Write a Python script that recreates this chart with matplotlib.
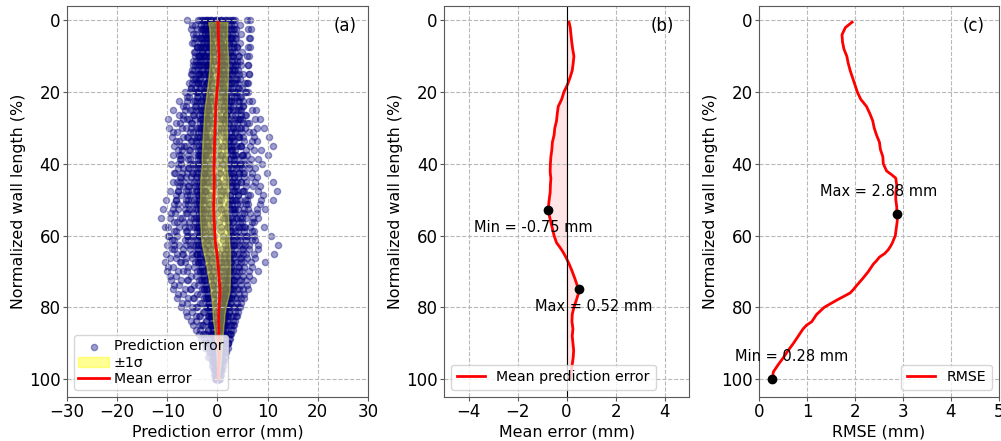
import numpy as np
import matplotlib
matplotlib.use("Agg")
import matplotlib.pyplot as plt

# depth levels for the individual prediction error profiles (%)
depth_levels = [0, 2.5, 5, 7.5, 10, 12.5, 15, 17.5, 20, 22.5, 25, 27.5, 30, 32.5,
                35, 37.5, 40, 42.5, 45, 47.5, 50, 52.5, 55, 57.5, 60, 62.5, 65,
                67.5, 70, 72.5, 75, 77.5, 80, 82.5, 85, 87.5, 90, 92.5, 95, 97.5, 100]
depth_levels_b = [1.25, 3.75, 6.25, 8.75, 11.25, 13.75, 16.25, 18.75, 21.25, 23.75,
                  26.25, 28.75, 31.25, 33.75, 36.25, 38.75, 41.25, 43.75, 46.25, 48.75,
                  51.25, 53.75, 56.25, 58.75, 61.25, 63.75, 66.25, 68.75, 71.25, 73.75,
                  76.25, 78.75, 81.25, 83.75, 86.25, 88.75, 91.25, 93.75, 96.25, 98.75]

# individual wall profiles, prediction error (mm)
err_01 = [-1.5, -1.8, -2.0, -2.4, -2.6, -3.0, -3.3, -3.8, -4.2, -4.8, -5.4, -6.0, -6.3, -6.0,
          -6.6, -7.2, -7.8, -8.4, -8.9, -9.5, -10.2, -10.9, -11.2, -10.5, -9.6, -8.7, -8.0,
          -7.4, -6.8, -6.1, -5.5, -4.9, -4.3, -3.6, -3.0, -2.4, -1.8, -1.3, -0.9, -0.6, -0.4]
err_02 = [-2.5, -2.8, -3.2, -3.5, -3.9, -4.4, -5.0, -5.7, -6.5, -7.6, -8.8, -9.9, -9.6, -9.0,
          -8.6, -8.9, -9.2, -8.7, -8.1, -7.8, -8.3, -8.9, -9.4, -9.8, -9.9, -10.1, -10.3,
          -10.5, -10.0, -9.3, -8.8, -8.0, -7.2, -6.1, -4.9, -3.6, -2.4, -1.6, -1.0, -0.6, -0.3]
err_03 = [-3.8, -4.0, -4.3, -4.1, -4.5, -4.8, -5.2, -5.0, -5.5, -6.0, -6.4, -6.8, -7.1, -6.9,
          -7.3, -7.6, -7.2, -7.0, -7.5, -7.9, -8.2, -7.8, -7.4, -7.7, -8.1, -7.6, -7.0,
          -6.5, -6.1, -5.8, -5.2, -4.6, -4.1, -3.5, -2.9, -2.2, -1.6, -1.1, -0.8, -0.5, -0.3]
err_04 = [-6.0, -5.2, -4.6, -4.0, -3.7, -3.5, -3.9, -4.3, -4.0, -4.5, -5.1, -5.6, -5.2, -5.8,
          -6.3, -5.9, -5.4, -6.0, -6.6, -6.2, -5.8, -6.5, -7.0, -6.4, -5.9, -6.3, -6.8,
          -7.3, -7.8, -7.2, -6.5, -5.8, -5.0, -4.2, -3.5, -2.8, -2.0, -1.4, -0.9, -0.5, -0.2]
err_05 = [3.0, 3.3, 3.6, 3.8, 4.2, 4.6, 5.0, 5.5, 6.0, 6.8, 7.6, 8.5, 9.3, 10.2,
          11.0, 10.0, 8.8, 9.8, 11.0, 11.8, 11.0, 9.5, 8.0, 9.2, 10.6, 12.0, 11.2,
          9.5, 8.0, 7.0, 6.0, 5.2, 4.5, 3.8, 3.2, 2.6, 2.0, 1.5, 1.0, 0.6, 0.3]
err_06 = [5.8, 6.0, 6.2, 6.0, 5.8, 6.1, 6.3, 6.0, 5.6, 6.2, 6.9, 7.5, 7.9, 7.2,
          6.5, 5.8, 6.2, 6.8, 7.4, 8.0, 8.6, 7.8, 7.0, 6.4, 7.2, 8.0, 7.3,
          6.6, 6.2, 5.6, 5.0, 4.6, 4.0, 3.6, 3.0, 2.5, 2.0, 1.6, 1.1, 0.7, 0.4]
err_07 = [6.5, 6.6, 6.4, 6.5, 6.3, 6.0, 6.2, 5.9, 5.5, 5.0, 4.6, 4.9, 5.4, 5.0,
          4.5, 4.8, 5.3, 5.0, 4.6, 5.1, 5.5, 5.2, 4.8, 5.4, 5.9, 5.5, 5.0,
          4.6, 4.3, 4.7, 4.2, 3.8, 3.4, 3.1, 2.7, 2.4, 2.1, 1.7, 1.3, 0.9, 0.5]
err_08 = [-3.0, -3.1, -3.3, -3.2, -3.5, -3.7, -3.6, -3.9, -4.1, -4.0, -4.3, -4.5, -4.2, -4.6,
          -4.8, -4.4, -4.9, -5.1, -4.7, -5.0, -5.3, -5.0, -4.6, -4.9, -5.2, -4.8, -4.3,
          -3.9, -3.5, -3.2, -2.7, -2.3, -2.0, -1.6, -1.3, -1.0, -0.8, -0.6, -0.4, -0.3, -0.2]
err_09 = [2.5, 2.7, 2.9, 3.2, 3.0, 3.4, 3.7, 3.5, 3.9, 4.2, 4.0, 4.4, 4.7, 4.3,
          4.6, 4.9, 4.5, 4.2, 4.6, 4.8, 4.4, 4.1, 4.5, 4.9, 5.2, 4.8, 4.3,
          3.9, 3.6, 3.2, 2.9, 2.6, 2.2, 1.9, 1.6, 1.3, 1.1, 0.9, 0.7, 0.5, 0.3]
err_10 = [-2.0, -2.2, -1.9, -2.4, -2.6, -2.3, -2.8, -3.1, -2.9, -3.3, -3.6, -3.4, -3.8, -4.1,
          -3.7, -3.4, -3.9, -4.2, -3.8, -4.3, -4.6, -4.2, -3.9, -4.4, -4.7, -4.3, -4.0,
          -3.6, -3.0, -2.6, -2.1, -1.7, -1.4, -1.2, -1.0, -0.8, -0.6, -0.5, -0.4, -0.3, -0.2]
err_11 = [1.5, 1.8, 2.0, 1.7, 2.1, 2.4, 2.2, 2.6, 2.9, 2.7, 3.1, 3.4, 3.0, 2.7,
          3.2, 3.6, 3.3, 3.0, 3.5, 3.8, 3.4, 3.1, 3.6, 4.0, 3.7, 3.3, 3.0,
          2.6, 2.3, 2.0, 1.8, 1.5, 1.3, 1.1, 0.9, 0.8, 0.6, 0.5, 0.4, 0.3, 0.2]
err_12 = [-1.0, -1.2, -1.5, -1.3, -1.7, -2.0, -1.8, -2.2, -2.5, -2.9, -3.3, -3.0, -3.5, -3.9,
          -4.2, -3.8, -4.4, -4.9, -5.3, -5.8, -6.2, -5.7, -5.2, -5.6, -6.0, -5.5, -5.0,
          -4.5, -4.0, -3.6, -3.1, -2.7, -2.3, -1.9, -1.5, -1.2, -0.9, -0.7, -0.5, -0.3, -0.2]
err_13 = [0.5, 0.3, 0.6, 0.9, 0.7, 1.0, 1.3, 1.1, 1.5, 1.8, 2.2, 2.0, 2.5, 2.9,
          2.6, 3.0, 3.4, 3.1, 2.8, 3.3, 3.7, 3.2, 2.9, 3.4, 3.8, 3.5, 3.0,
          2.7, 2.4, 2.1, 2.5, 2.2, 1.8, 1.5, 1.2, 1.0, 0.8, 0.6, 0.5, 0.4, 0.3]
err_14 = [-0.5, -0.3, -0.7, -1.0, -0.8, -1.2, -1.5, -1.9, -1.6, -2.1, -2.5, -2.2, -2.7, -2.4,
          -2.9, -3.3, -3.0, -2.6, -3.1, -3.5, -3.9, -3.4, -3.0, -3.3, -3.7, -3.2, -2.8,
          -2.3, -1.9, -1.5, -1.1, -0.8, -0.6, -0.9, -0.7, -0.5, -0.4, -0.3, -0.2, -0.2, -0.1]
err_15 = [1.0, 1.2, 0.9, 1.4, 1.6, 1.3, 1.8, 2.1, 1.9, 2.3, 2.0, 1.6, 1.9, 2.3,
          2.0, 1.7, 2.2, 2.6, 2.3, 1.9, 2.4, 2.8, 2.5, 2.1, 2.6, 3.0, 2.7,
          2.4, 2.9, 3.3, 3.0, 2.7, 2.3, 2.0, 1.7, 1.4, 1.2, 0.9, 0.7, 0.5, 0.3]
err_16 = [-1.8, -1.6, -2.0, -1.7, -2.2, -1.9, -2.4, -2.1, -2.6, -2.3, -2.8, -3.2, -2.9, -3.4,
          -3.1, -3.6, -3.3, -3.8, -3.5, -4.0, -3.6, -3.2, -3.6, -3.9, -3.5, -3.1, -3.4,
          -3.0, -2.7, -2.4, -2.0, -1.8, -1.5, -1.3, -1.1, -0.9, -0.7, -0.5, -0.4, -0.3, -0.2]
err_17 = [2.0, 2.2, 2.5, 2.3, 2.7, 3.0, 2.8, 3.2, 3.5, 3.3, 3.7, 4.0, 4.4, 4.1,
          4.6, 5.0, 4.7, 5.2, 5.6, 5.3, 5.8, 6.1, 5.7, 5.3, 5.8, 6.2, 5.7,
          5.2, 4.8, 4.3, 3.9, 3.5, 3.0, 2.7, 2.4, 2.0, 1.7, 1.3, 1.0, 0.7, 0.4]
err_18 = [0.0, -0.3, 0.2, -0.1, 0.3, -0.2, 0.1, -0.4, -0.8, -0.5, -1.0, -0.7, -1.2, -1.6,
          -1.3, -1.8, -1.5, -2.0, -1.7, -2.2, -2.6, -2.3, -2.0, -2.5, -2.2, -1.8, -1.5,
          -1.1, -0.7, -0.3, 0.1, 0.4, 0.2, 0.5, 0.3, 0.2, 0.1, 0.1, 0.0, 0.0, 0.0]
err_19 = [0.8, 1.0, 0.7, 1.1, 0.8, 1.2, 0.9, 0.6, 1.0, 0.7, 0.3, 0.6, 0.2, -0.2,
          0.1, -0.3, 0.0, 0.4, 0.1, -0.3, -0.7, -0.4, -0.9, -0.6, -1.0, -0.6, -0.2,
          0.3, 0.8, 1.2, 1.6, 1.3, 1.0, 0.8, 0.6, 0.5, 0.4, 0.3, 0.2, 0.2, 0.1]
err_20 = [-2.8, -2.6, -2.9, -2.7, -3.0, -2.7, -2.4, -2.0, -1.7, -2.1, -1.8, -2.2, -2.6, -2.3,
          -2.0, -2.4, -2.8, -3.2, -2.9, -2.5, -2.9, -3.3, -3.0, -2.6, -2.2, -1.9, -1.6,
          -1.2, -0.9, -0.6, -0.3, 0.0, 0.3, 0.2, 0.4, 0.3, 0.2, 0.1, 0.1, 0.0, 0.0]
err_21 = [3.5, 3.7, 3.4, 3.8, 4.1, 3.9, 4.3, 4.0, 3.7, 4.1, 4.5, 4.2, 3.9, 4.3,
          3.9, 3.5, 3.9, 4.3, 3.9, 3.5, 3.1, 3.5, 3.9, 4.3, 4.6, 4.2, 3.8,
          3.5, 3.1, 2.8, 2.4, 2.1, 1.8, 1.6, 1.4, 1.2, 1.0, 0.8, 0.6, 0.4, 0.3]
err_22 = [-1.3, -1.5, -1.2, -1.6, -1.4, -1.8, -1.5, -1.2, -1.6, -1.3, -1.7, -2.1, -1.8, -1.5,
          -1.9, -2.3, -2.0, -1.6, -2.1, -2.5, -2.2, -1.8, -1.4, -1.0, -0.6, -0.2, 0.3,
          0.7, 1.1, 1.5, 1.8, 1.5, 1.2, 1.0, 0.8, 0.6, 0.5, 0.4, 0.3, 0.2, 0.1]
err_23 = [1.8, 1.6, 1.9, 1.5, 1.2, 1.5, 1.1, 0.8, 1.2, 1.5, 1.2, 0.9, 1.3, 1.7,
          1.4, 1.0, 1.4, 1.8, 1.5, 1.1, 0.7, 1.1, 1.5, 1.9, 2.3, 2.0, 1.6,
          1.3, 1.7, 2.1, 1.8, 1.5, 1.2, 1.4, 1.1, 0.9, 0.7, 0.6, 0.4, 0.3, 0.2]
err_24 = [-3.5, -3.3, -3.6, -3.9, -3.7, -4.0, -3.7, -3.4, -3.8, -3.5, -3.1, -2.8, -3.2, -2.9,
          -2.6, -3.0, -2.7, -2.4, -2.8, -3.2, -3.5, -3.9, -4.3, -4.0, -3.6, -3.9, -3.5,
          -3.2, -2.8, -2.5, -2.2, -1.9, -1.6, -1.3, -1.0, -0.8, -0.6, -0.4, -0.3, -0.2, -0.1]
err_25 = [2.8, 3.0, 2.7, 3.1, 2.8, 2.5, 2.9, 2.6, 2.2, 2.6, 2.3, 2.7, 3.1, 2.8,
          2.5, 2.9, 2.6, 2.3, 2.7, 3.1, 2.8, 2.5, 2.1, 2.5, 2.9, 2.6, 2.2,
          1.9, 2.2, 2.6, 2.3, 2.0, 1.7, 1.4, 1.2, 1.0, 0.8, 0.6, 0.4, 0.3, 0.2]
err_26 = [-0.2, 0.1, 0.4, 0.2, 0.5, 0.8, 0.6, 1.0, 0.7, 1.1, 1.4, 1.1, 0.8, 1.2,
          0.9, 0.5, 0.9, 0.6, 0.2, 0.6, 0.3, 0.7, 1.1, 0.8, 1.2, 1.6, 1.3,
          1.7, 2.1, 1.8, 1.5, 1.2, 0.9, 0.7, 0.5, 0.4, 0.3, 0.2, 0.2, 0.1, 0.1]
err_27 = [-2.3, -2.5, -2.2, -1.9, -2.3, -2.0, -1.7, -2.1, -1.8, -1.5, -1.9, -1.6, -2.0, -2.4,
          -2.1, -2.5, -2.9, -2.6, -2.3, -2.7, -3.1, -2.8, -3.2, -3.6, -3.3, -3.7, -4.1,
          -3.8, -3.4, -3.0, -2.6, -2.2, -1.9, -1.6, -1.3, -1.1, -0.9, -0.7, -0.5, -0.3, -0.2]

# profiles sampled on the shifted grid
err_b01 = [-0.8, -1.0, -1.3, -1.1, -1.5, -1.8, -1.6, -2.0, -2.3, -2.1, -2.5, -2.8, -2.6, -3.0,
           -3.3, -3.1, -3.5, -3.2, -3.6, -3.9, -3.6, -3.3, -3.7, -3.4, -3.0, -2.6, -2.2,
           -1.8, -1.4, -1.0, -0.7, -0.4, -0.2, 0.0, 0.1, 0.2, 0.1, 0.1, 0.0, 0.0]
err_b02 = [1.2, 1.4, 1.7, 1.5, 1.9, 2.2, 2.0, 2.4, 2.7, 2.5, 2.9, 3.2, 3.5, 3.2,
           2.9, 3.3, 3.6, 3.3, 3.7, 4.1, 3.8, 3.4, 3.0, 3.4, 3.8, 3.4, 3.0,
           2.7, 2.4, 2.0, 1.8, 1.5, 1.3, 1.1, 0.9, 0.7, 0.6, 0.4, 0.3, 0.2]
err_b03 = [-2.6, -2.4, -2.8, -3.1, -2.9, -3.3, -3.6, -3.4, -3.8, -4.2, -4.6, -5.0, -5.4, -5.1,
           -5.5, -5.9, -5.6, -5.2, -5.7, -6.1, -6.5, -6.1, -5.7, -6.0, -6.4, -6.8, -6.3,
           -5.8, -5.2, -4.6, -4.0, -3.4, -2.8, -2.3, -1.9, -1.5, -1.1, -0.8, -0.5, -0.3]
err_b04 = [0.2, 0.0, 0.3, 0.6, 0.4, 0.1, 0.4, 0.8, 0.5, 0.2, -0.2, -0.6, -0.3, -0.7,
           -1.1, -0.8, -1.2, -0.9, -1.3, -1.7, -1.4, -1.8, -2.1, -1.7, -1.3, -0.9, -0.5,
           -0.1, 0.3, 0.7, 1.0, 0.8, 0.6, 0.5, 0.4, 0.3, 0.3, 0.2, 0.1, 0.1]
err_b05 = [3.2, 3.4, 3.1, 3.5, 3.8, 3.5, 3.9, 4.2, 3.9, 4.3, 4.7, 5.1, 4.8, 5.2,
           5.6, 5.2, 4.8, 5.3, 5.7, 6.1, 5.7, 5.2, 4.8, 5.2, 5.6, 5.1, 4.6,
           4.2, 3.8, 3.4, 3.0, 2.6, 2.3, 2.0, 1.7, 1.4, 1.1, 0.8, 0.6, 0.4]
err_b06 = [-1.5, -1.7, -1.4, -1.8, -2.1, -1.8, -2.2, -2.6, -2.3, -2.7, -3.1, -2.8, -3.3, -3.7,
           -3.4, -3.9, -4.3, -4.0, -4.4, -4.1, -4.5, -4.9, -4.5, -4.1, -4.4, -4.0, -3.6,
           -3.2, -2.8, -2.4, -2.0, -1.7, -1.4, -1.1, -0.9, -0.7, -0.5, -0.4, -0.3, -0.2]
err_b07 = [2.2, 2.0, 2.3, 2.0, 1.7, 2.0, 2.3, 2.0, 1.7, 2.1, 1.8, 2.2, 2.6, 2.3,
           2.7, 2.4, 2.8, 3.2, 2.9, 2.5, 2.9, 3.3, 3.0, 2.6, 3.0, 2.7, 2.3,
           2.6, 2.3, 2.0, 1.7, 1.9, 1.6, 1.3, 1.1, 0.9, 0.7, 0.5, 0.4, 0.3]
err_b08 = [-0.3, -0.6, -0.3, -0.7, -0.4, -0.8, -0.5, -0.9, -1.3, -1.0, -1.4, -1.1, -0.7, -1.0,
           -1.4, -1.1, -1.5, -1.2, -0.8, -1.2, -1.6, -1.3, -0.9, -1.3, -1.7, -1.4, -1.0,
           -0.6, -0.2, 0.2, 0.6, 0.9, 0.7, 0.5, 0.4, 0.3, 0.2, 0.2, 0.1, 0.1]
err_b09 = [4.5, 4.7, 4.4, 4.8, 4.5, 4.1, 4.5, 4.9, 4.6, 5.0, 5.4, 5.8, 6.3, 6.8,
           7.2, 6.7, 6.2, 6.6, 7.0, 6.5, 6.0, 6.4, 6.8, 7.3, 6.8, 6.3, 5.8,
           5.3, 5.0, 4.6, 4.2, 3.8, 3.4, 3.0, 2.6, 2.2, 1.8, 1.4, 1.0, 0.6]
err_b10 = [-4.5, -4.3, -4.7, -4.4, -4.8, -5.1, -4.8, -5.2, -5.6, -6.2, -6.8, -7.5, -8.1, -7.6,
           -7.0, -7.4, -7.9, -7.4, -6.9, -7.3, -7.8, -8.4, -8.0, -8.6, -9.1, -8.6, -8.2,
           -8.8, -8.3, -7.6, -6.8, -6.0, -5.1, -4.3, -3.5, -2.7, -2.0, -1.4, -0.9, -0.5]
err_b11 = [0.9, 1.1, 0.8, 1.2, 1.5, 1.2, 1.6, 1.3, 1.7, 1.4, 1.8, 1.5, 1.1, 1.5,
           1.9, 1.6, 2.0, 1.7, 1.4, 1.8, 2.2, 1.9, 2.3, 2.7, 2.4, 2.1, 2.5,
           2.2, 1.9, 2.3, 2.0, 1.7, 1.4, 1.2, 1.0, 0.8, 0.6, 0.5, 0.3, 0.2]
err_b12 = [-3.2, -3.0, -3.3, -3.0, -3.4, -3.1, -3.5, -3.2, -2.9, -3.3, -3.7, -3.4, -3.8, -4.2,
           -3.9, -3.5, -3.9, -4.3, -4.0, -3.6, -4.0, -3.7, -3.3, -3.7, -4.1, -3.8, -3.4,
           -3.0, -2.6, -2.2, -1.9, -1.6, -1.3, -1.0, -0.8, -0.6, -0.5, -0.3, -0.2, -0.1]
err_b13 = [-0.1, 0.2, 0.5, 0.3, 0.7, 1.0, 0.8, 1.2, 1.5, 1.3, 1.7, 2.1, 1.8, 2.2,
           2.6, 2.3, 1.9, 2.3, 2.7, 2.4, 2.0, 1.6, 2.0, 2.4, 2.1, 1.7, 1.3,
           1.0, 0.7, 1.0, 1.3, 1.0, 0.8, 0.6, 0.5, 0.4, 0.3, 0.2, 0.1, 0.1]
err_b14 = [-2.0, -1.8, -2.1, -1.8, -1.5, -1.9, -1.6, -2.0, -2.4, -2.1, -1.7, -2.1, -2.5, -2.2,
           -1.8, -2.2, -2.6, -2.3, -2.7, -3.1, -2.8, -2.4, -2.8, -2.5, -2.1, -2.5, -2.2,
           -1.8, -1.4, -1.0, -0.6, -0.3, 0.0, 0.2, 0.3, 0.3, 0.2, 0.2, 0.1, 0.0]
err_b15 = [2.6, 2.8, 3.1, 2.8, 3.2, 2.9, 2.5, 2.9, 3.3, 3.0, 3.4, 3.8, 3.5, 3.1,
           3.5, 3.9, 4.3, 4.0, 3.6, 4.0, 4.4, 4.8, 4.4, 4.0, 4.4, 4.8, 4.4,
           4.0, 3.6, 3.2, 2.8, 2.5, 2.2, 1.9, 1.6, 1.3, 1.0, 0.8, 0.6, 0.4]
err_b16 = [-1.1, -0.9, -1.2, -0.9, -0.6, -1.0, -1.3, -1.0, -1.4, -1.8, -2.2, -1.9, -2.3, -2.0,
           -2.4, -2.8, -2.5, -2.9, -3.3, -3.0, -3.4, -3.1, -2.7, -3.1, -2.8, -2.4, -2.0,
           -1.6, -1.2, -0.8, -0.4, 0.0, 0.3, 0.5, 0.4, 0.3, 0.3, 0.2, 0.1, 0.1]
err_b17 = [0.6, 0.4, 0.7, 0.4, 0.1, 0.4, 0.7, 0.4, 0.1, -0.2, 0.1, 0.5, 0.2, -0.2,
           0.2, 0.6, 0.3, -0.1, 0.3, 0.7, 0.4, 0.0, 0.4, 0.8, 1.2, 0.9, 0.5,
           0.9, 1.3, 1.0, 0.7, 0.5, 0.4, 0.3, 0.3, 0.2, 0.2, 0.1, 0.1, 0.0]
err_b18 = [-5.0, -4.8, -5.1, -4.7, -4.3, -4.6, -4.2, -4.5, -4.1, -4.4, -4.8, -5.2, -4.9, -5.3,
           -5.7, -5.4, -5.8, -6.2, -5.9, -5.5, -5.9, -6.3, -6.7, -6.3, -5.9, -5.5, -5.1,
           -4.7, -4.3, -3.9, -3.5, -3.1, -2.7, -2.3, -1.9, -1.5, -1.1, -0.8, -0.5, -0.3]
err_b19 = [1.6, 1.9, 2.2, 2.5, 2.9, 3.3, 3.7, 4.1, 4.5, 5.0, 5.6, 6.3, 7.0, 7.8,
           8.6, 8.0, 7.4, 7.9, 8.5, 9.0, 8.4, 7.8, 7.2, 6.8, 7.4, 8.0, 7.5,
           6.9, 6.3, 5.8, 5.2, 4.6, 4.0, 3.5, 3.0, 2.5, 2.0, 1.5, 1.1, 0.7]
err_b20 = [-2.2, -2.4, -2.7, -3.0, -3.4, -3.9, -4.5, -5.2, -6.0, -6.9, -7.6, -8.2, -8.8, -8.3,
           -7.8, -7.3, -6.8, -7.2, -7.7, -8.2, -8.7, -9.2, -8.7, -8.2, -8.6, -9.0, -9.5,
           -9.9, -9.4, -8.7, -7.9, -7.1, -6.2, -5.2, -4.2, -3.3, -2.5, -1.8, -1.1, -0.6]

profiles_a = [err_01, err_02, err_03, err_04, err_05, err_06, err_07, err_08, err_09,
              err_10, err_11, err_12, err_13, err_14, err_15, err_16, err_17, err_18,
              err_19, err_20, err_21, err_22, err_23, err_24, err_25, err_26, err_27]
profiles_b = [err_b01, err_b02, err_b03, err_b04, err_b05, err_b06, err_b07, err_b08,
              err_b09, err_b10, err_b11, err_b12, err_b13, err_b14, err_b15, err_b16,
              err_b17, err_b18, err_b19, err_b20]

# statistics along the wall
depth = [0.5, 2, 4, 6, 8, 10, 12, 14, 16, 18, 20, 22, 24, 26, 28, 30, 32, 34, 36, 38,
         40, 42, 43, 44, 46, 48, 50, 52, 53, 54, 56, 58, 60, 62, 63, 64, 65, 66, 67,
         68, 70, 72, 74, 75, 76, 78, 80, 82, 84, 85, 86, 88, 90, 92, 94, 96, 98, 100]
mean_error = [0.10, 0.15, 0.18, 0.21, 0.25, 0.30, 0.27, 0.23, 0.14, 0.03, -0.11, -0.20,
              -0.34, -0.38, -0.41, -0.48, -0.51, -0.58, -0.60, -0.64, -0.66, -0.67, -0.66,
              -0.64, -0.66, -0.67, -0.71, -0.74, -0.75, -0.72, -0.65, -0.58, -0.51, -0.41,
              -0.30, -0.20, -0.11, -0.03, 0.04, 0.11, 0.23, 0.34, 0.44, 0.52, 0.49, 0.40,
              0.30, 0.23, 0.22, 0.24, 0.26, 0.23, 0.26, 0.29, 0.27, 0.23, 0.19, 0.16]
rmse = [1.94, 1.80, 1.73, 1.74, 1.77, 1.83, 1.86, 1.90, 1.95, 2.00, 2.05, 2.12, 2.24,
        2.31, 2.37, 2.40, 2.45, 2.51, 2.53, 2.58, 2.59, 2.66, 2.76, 2.85, 2.87, 2.85,
        2.85, 2.87, 2.87, 2.88, 2.88, 2.86, 2.84, 2.78, 2.74, 2.69, 2.62, 2.51, 2.45,
        2.38, 2.28, 2.16, 2.03, 1.97, 1.90, 1.62, 1.36, 1.20, 1.10, 0.99, 0.92, 0.82,
        0.72, 0.61, 0.51, 0.40, 0.30, 0.28]

mean_arr = np.array(mean_error)
rmse_arr = np.array(rmse)
std_error = np.sqrt(np.clip(rmse_arr**2 - mean_arr**2, 0, None))

fs = 12
lfs = 11.4
leg_fs = 10.2
ann_fs = 10.5
fig = plt.figure(figsize=(10.01, 4.41), dpi=100)
ax1 = fig.add_axes([0.0669, 0.0998, 0.3007, 0.8866])
ax2 = fig.add_axes([0.4436, 0.0998, 0.2448, 0.8866])
ax3 = fig.add_axes([0.7582, 0.0998, 0.2398, 0.8866])

# (a) all profiles
first = True
for grid, group in ((depth_levels, profiles_a), (depth_levels_b, profiles_b)):
    for p in group:
        ax1.scatter(p, grid, s=20, color='navy', alpha=0.38,
                    label='Prediction error' if first else None)
        first = False
ax1.fill_betweenx(depth, mean_arr - std_error, mean_arr + std_error,
                  color='yellow', alpha=0.42, label='±1σ')
ax1.plot(mean_error, depth, color='red', lw=2, label='Mean error')
ax1.set_xlim(-30, 30)
ax1.set_xticks([-30, -20, -10, 0, 10, 20, 30])
ax1.set_xlabel('Prediction error (mm)', fontsize=lfs)
ax1.legend(loc='lower left', fontsize=leg_fs, labelspacing=0.15, handletextpad=0.3,
           borderpad=0.3, handlelength=2.2)
ax1.text(0.887, 0.948, '(a)', transform=ax1.transAxes, fontsize=fs, va='center')

# (b) mean error
ax2.plot(mean_error, depth, color='red', lw=2, label='Mean prediction error')
ax2.fill_betweenx(depth, 0, mean_error, color='red', alpha=0.1)
ax2.axvline(0, color='black', lw=0.8)
imin = int(np.argmin(mean_arr))
imax = int(np.argmax(mean_arr))
ax2.plot(mean_error[imin], depth[imin], 'ko', ms=6)
ax2.plot(mean_error[imax], depth[imax], 'ko', ms=6)
ax2.text(mean_error[imin] - 0.6, depth[imin] + 4.8, f'Min = {mean_error[imin]:.2f} mm',
         ha='center', va='center', fontsize=ann_fs)
ax2.text(mean_error[imax] + 0.6, depth[imax] + 4.8, f'Max = {mean_error[imax]:.2f} mm',
         ha='center', va='center', fontsize=ann_fs)
ax2.set_xlim(-5, 5)
ax2.set_xticks([-4, -2, 0, 2, 4])
ax2.set_xlabel('Mean error (mm)', fontsize=lfs)
ax2.legend(loc='lower left', fontsize=leg_fs)
ax2.text(0.844, 0.948, '(b)', transform=ax2.transAxes, fontsize=fs, va='center')

# (c) RMSE
ax3.plot(rmse, depth, color='red', lw=2, label='RMSE')
jmin = int(np.argmin(rmse_arr))
jmax = int(np.argmax(rmse_arr))
ax3.plot(rmse[jmin], depth[jmin], 'ko', ms=6)
ax3.plot(rmse[jmax], depth[jmax], 'ko', ms=6)
ax3.text(rmse[jmin] + 0.4, depth[jmin] - 6.2, f'Min = {rmse[jmin]:.2f} mm',
         ha='center', va='center', fontsize=ann_fs)
ax3.text(rmse[jmax] - 0.39, depth[jmax] - 6.2, f'Max = {rmse[jmax]:.2f} mm',
         ha='center', va='center', fontsize=ann_fs)
ax3.set_xlim(0, 5)
ax3.set_xticks([0, 1, 2, 3, 4, 5])
ax3.set_xlabel('RMSE (mm)', fontsize=lfs)
ax3.legend(loc='lower right', fontsize=leg_fs)
ax3.text(0.85, 0.948, '(c)', transform=ax3.transAxes, fontsize=fs, va='center')

for ax in (ax1, ax2, ax3):
    ax.set_ylim(105, -4)
    ax.set_yticks([0, 20, 40, 60, 80, 100])
    ax.set_ylabel('Normalized wall length (%)', fontsize=lfs, labelpad=2)
    ax.xaxis.labelpad = 2
    ax.tick_params(labelsize=fs, color='0.35', length=3, pad=1.5)
    ax.grid(True, linestyle='--', color='0.72', lw=0.8)
    for s in ax.spines.values():
        s.set_color('0.35')

fig.savefig('out.png', dpi=100)
